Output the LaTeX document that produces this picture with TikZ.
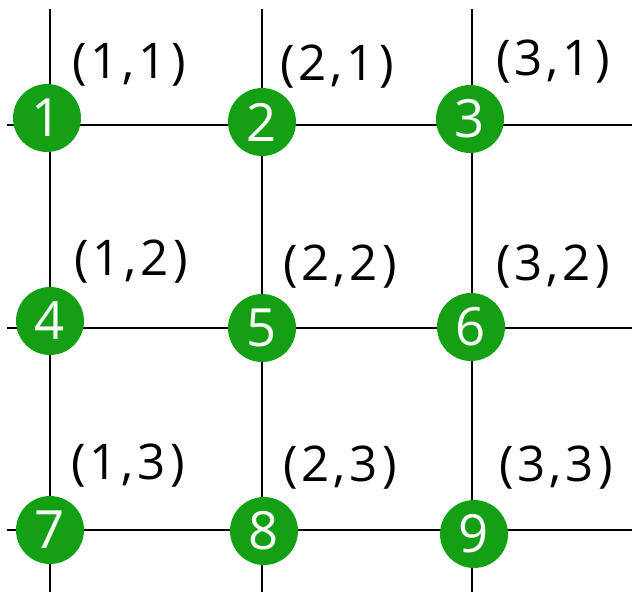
\documentclass[tikz,border=0pt]{standalone}
\usepackage{fontspec}
\setmainfont{Open Sans}
\usepackage{tikz}

\definecolor{dotgreen}{RGB}{20,160,20}

\tikzset{
  gridline/.style={line width=1.1pt, black},
  cellnum/.style={circle, fill=dotgreen, text=white, inner sep=0pt,
    minimum size=1.36cm, font=\fontsize{30}{30}\selectfont},
  pairlabel/.style={inner sep=0pt, text=black,
    font=\fontsize{28}{28}\selectfont\addfontfeatures{LetterSpace=8}}
}

\begin{document}
\begin{tikzpicture}[x=0.02cm, y=-0.02cm]
\useasboundingbox (0,0) rectangle (632,592);

% grid lines
\foreach \y/\r in {125/1, 328/2, 530/3} {
  \coordinate (west\r) at (7,\y);
  \coordinate (east\r) at (632,\y);
  \draw[gridline] (west\r) -- (east\r);
}
\foreach \x/\c in {50/1, 262/2, 472/3} {
  \coordinate (top\c) at (\x,9);
  \coordinate (bot\c) at (\x,592);
  \draw[gridline] (top\c) -- (bot\c);
}

% numbered points
\foreach \x/\y/\k in {47/118/1, 262/122/2, 470/119/3,
                      50/321/4, 262/328/5, 471/327/6,
                      50/530/7, 264/531/8, 474/534/9}
  \node[cellnum] (pt\k) at (\x,\y) {\k};

% coordinate labels
\node[pairlabel] (lab11) at (129,65) {(1,1)};
\node[pairlabel] (lab21) at (337,67) {(2,1)};
\node[pairlabel] (lab31) at (553,62) {(3,1)};
\node[pairlabel] (lab12) at (131,262) {(1,2)};
\node[pairlabel] (lab22) at (340,267) {(2,2)};
\node[pairlabel] (lab32) at (553,267) {(3,2)};
\node[pairlabel] (lab13) at (128,466) {(1,3)};
\node[pairlabel] (lab23) at (340,468) {(2,3)};
\node[pairlabel] (lab33) at (556,468) {(3,3)};
\end{tikzpicture}
\end{document}
